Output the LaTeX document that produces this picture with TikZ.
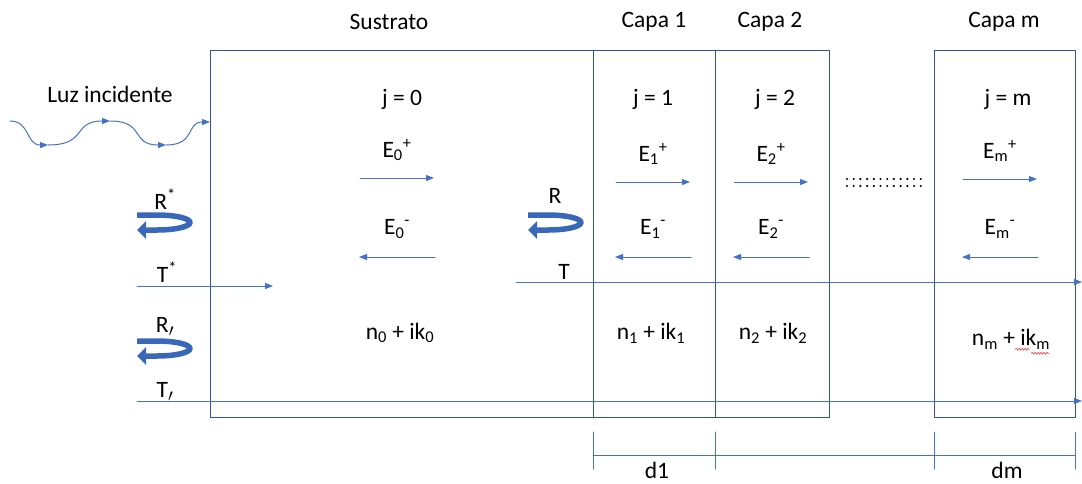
\documentclass[tikz,border=0pt]{standalone}
\usepackage{fontspec}
\setmainfont{Carlito}
\usepackage{xcolor}
\definecolor{boxblue}{HTML}{2F5597}
\definecolor{rayblue}{HTML}{4472C4}
\definecolor{bendblue}{HTML}{3A68B8}
\usepackage{tikz}
\usetikzlibrary{arrows.meta,calc,decorations.pathmorphing}
\tikzset{
  >={Triangle[length=8pt,width=6pt]},
  every picture/.style={line cap=round, line join=round},
  lbl/.style={font=\fontsize{23.5}{28}\selectfont, text=black, inner sep=1pt},
  layer/.style={boxblue, line width=1pt},
  ray/.style={rayblue, line width=1pt, ->},
  bent/.style={bendblue, line width=5.5pt, line cap=butt,
    -{Triangle[length=9pt,width=17pt]}},
}

\begin{document}
\begin{tikzpicture}[x=1pt, y=-1pt,
  tick/.style={rayblue, line width=1pt},
  spell/.style={red!80, line width=0.6pt,
    decorate, decoration={snake, amplitude=1pt, segment length=3pt}},
]
\useasboundingbox (0,0) rectangle (1082,483);
% a field pair of one layer: #1 = name, #2 = centre x, #3 = index, #4 = y of E+
\newcommand{\efield}[4]{%
  \node[lbl] (#1p) at (#2,#4-28) {E\textsubscript{#3}\textsuperscript{+}};
  \coordinate (#1pa) at (#2-37,#4); \coordinate (#1pb) at (#2+37,#4);
  \draw[ray] (#1pa) -- (#1pb);
  \node[lbl] (#1m) at (#2,229) {E\textsubscript{#3}\textsuperscript{-}};
  \coordinate (#1ma) at (#2+38,257); \coordinate (#1mb) at (#2-38,257);
  \draw[ray] (#1ma) -- (#1mb);}
% a bent reflection arrow, #1 = name, #2 = top left start
\newcommand{\reflect}[2]{%
  \coordinate (#1) at #2;
  \draw[bent] (#1) -- ++(20,0) arc[start angle=-90, end angle=90, x radius=33, y radius=7.5]
    -- ++(-20,0);}

% ------------------------------------------------------------------ layers
\coordinate (sw) at (210,417); \coordinate (ne) at (829,50);
\draw[layer] (sw) rectangle (ne);
\draw[layer] (593,50) -- (593,417);
\draw[layer] (715,50) -- (715,417);
\draw[layer] (934,50) rectangle (1075,417);

\node[lbl] (sus)   at (389,22)  {Sustrato};
\node[lbl] (capa1) at (654,22)  {Capa 1};
\node[lbl] (capa2) at (770,22)  {Capa 2};
\node[lbl] (capam) at (1004,22) {Capa m};

\node[lbl] (j0) at (402,99)  {j = 0};
\node[lbl] (j1) at (653,99)  {j = 1};
\node[lbl] (j2) at (775,99)  {j = 2};
\node[lbl] (jm) at (1008,99) {j = m};

\efield{e0}{397}{0}{178}
\efield{e1}{653}{1}{182}
\efield{e2}{771}{2}{182}
\efield{em}{1000}{m}{179}

\node[lbl] (n0) at (400,333)  {n\textsubscript{0} + ik\textsubscript{0}};
\node[lbl] (n1) at (651,333)  {n\textsubscript{1} + ik\textsubscript{1}};
\node[lbl] (n2) at (773,333)  {n\textsubscript{2} + ik\textsubscript{2}};
\node[lbl] (nm) at (1011,339) {n\textsubscript{m} + ik\textsubscript{m}};
\draw[spell] ($(nm.base east)+(-36,4)$) -- ++(14,0);
\draw[spell] ($(nm.base east)+(-20,8)$) -- ++(18,0);

% dots between layer 2 and layer m
\foreach \i in {0,...,11} {
  \fill (847+\i*6.7,179) circle (1.2);
  \fill (847+\i*6.7,186) circle (1.2);
}

% ------------------------------------------------------------------ incident light
\node[lbl] (luz) at (110,94) {Luz incidente};
\coordinate (w0) at (10,121);  \coordinate (w1) at (48,145);
\coordinate (w2) at (110,121); \coordinate (w3) at (166,145);
\coordinate (w4) at (210,122);
\draw[ray] (w0) .. controls (30,121) and (26,145) .. (w1);
\draw[ray] (w1) .. controls (88,145) and (72,121) .. (w2);
\draw[ray] (w2) .. controls (146,121) and (130,145) .. (w3);
\draw[ray] (w3) .. controls (196,145) and (186,122) .. (w4);

% ------------------------------------------------------------------ reflection and transmission
\node[lbl] (rs) at (165,199) {R\textsuperscript{*}};
\reflect{rsa}{(137,215)}
\node[lbl] (ts) at (167,272) {T\textsuperscript{*}};
\coordinate (tsa) at (137,286); \coordinate (tsb) at (273,286);
\draw[ray] (tsa) -- (tsb);

\node[lbl] (r) at (555,196) {R};
\reflect{ra}{(528,215)}
\node[lbl] (t) at (564,272) {T};
\coordinate (ta) at (516,282); \coordinate (tb) at (1082,282);
\draw[ray] (ta) -- (tb);

\node[lbl] (rp) at (165,327) {R$_{\prime}$};
\reflect{rpa}{(137,341)}
\node[lbl] (tp) at (165,392) {T$_{\prime}$};
\coordinate (tpa) at (137,401); \coordinate (tpb) at (1082,401);
\draw[ray] (tpa) -- (tpb);

% ------------------------------------------------------------------ thicknesses
\foreach \x [count=\k] in {593,715,934,1075} {
  \coordinate (dt\k) at (\x,432); \coordinate (db\k) at (\x,469);
  \draw[tick] (dt\k) -- (db\k);
}
\draw[tick] (593,455) -- (1075,455);
\node[lbl, anchor=base] (d1) at (657,478) {d1};
\node[lbl, anchor=base] (dm) at (1007,478) {dm};
\end{tikzpicture}
\end{document}
